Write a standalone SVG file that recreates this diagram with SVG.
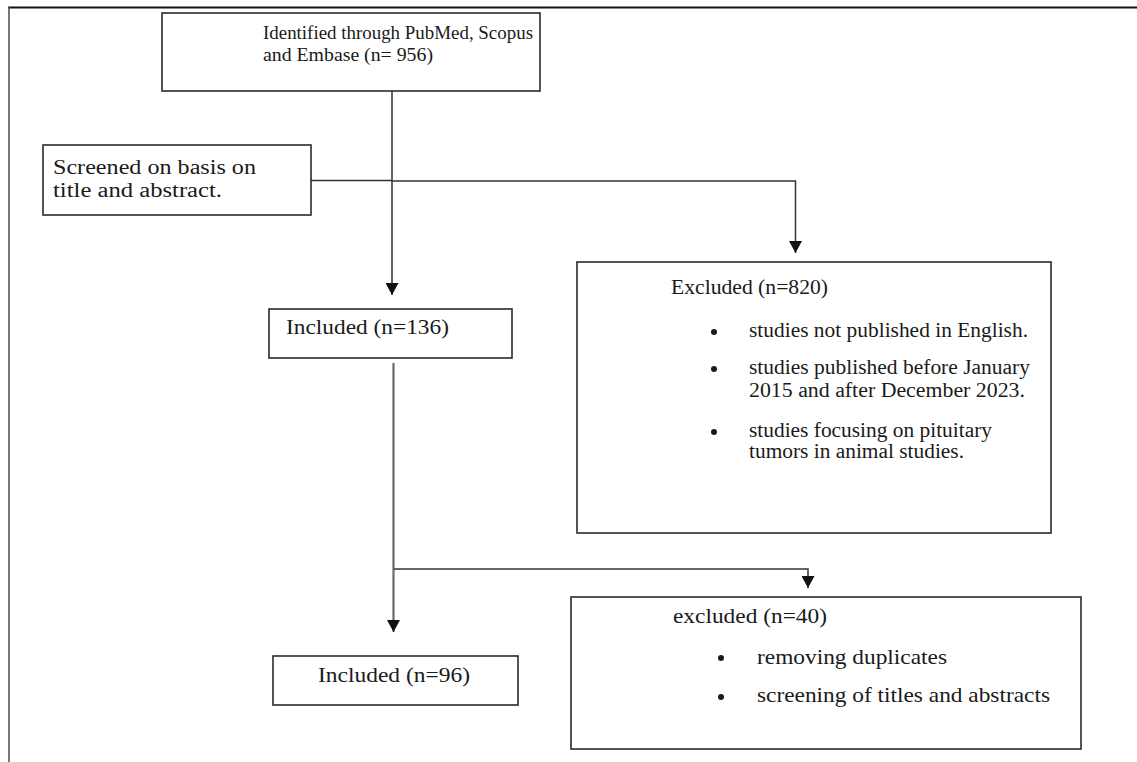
<svg xmlns="http://www.w3.org/2000/svg" width="1137" height="762" viewBox="0 0 1137 762">
  <defs>
    <style>
      .box { fill: #ffffff; stroke: #2a2a2a; stroke-width: 1.6; }
      .conn { fill: none; stroke: #333333; stroke-width: 1.5; stroke-linecap: butt; }
      .conn-gray { fill: none; stroke: #6a6a6a; stroke-width: 2.2; stroke-linecap: butt; }
      .t { font-family: "Liberation Serif", "Times New Roman", serif; fill: #1a1a1a; }
      .bullet { fill: #1a1a1a; }
    </style>
    <marker id="arrow" viewBox="0 0 12 13" markerWidth="12" markerHeight="13" refX="12" refY="6.5" orient="auto" markerUnits="userSpaceOnUse">
      <path d="M0,0 L12,6.5 L0,13 Z" fill="#111111"/>
    </marker>
  </defs>

  <rect width="1137" height="762" fill="#ffffff"/>

  <!-- page frame -->
  <g id="frame">
    <line x1="8" y1="7.5" x2="1137" y2="7.5" stroke="#111111" stroke-width="2"/>
    <line x1="9" y1="7" x2="9" y2="762" stroke="#555555" stroke-width="1.6"/>
  </g>

  <!-- connectors -->
  <g id="connectors">
    <path class="conn" d="M311,180.5 H392"/>
    <path class="conn" d="M392,91 V295" marker-end="url(#arrow)"/>
    <path class="conn" d="M392,181 H795.5 V253" marker-end="url(#arrow)"/>
    <path class="conn-gray" d="M393.5,363 V632" marker-end="url(#arrow)"/>
    <path class="conn" d="M394,569 H808 V588" marker-end="url(#arrow)"/>
  </g>

  <g id="identified">
    <rect class="box" x="162" y="13" width="378" height="78"/>
    <text class="t" x="263" y="39" font-size="19" textLength="270" lengthAdjust="spacingAndGlyphs">Identified through PubMed, Scopus</text>
    <text class="t" x="263" y="61" font-size="19" textLength="170" lengthAdjust="spacingAndGlyphs">and Embase (n= 956)</text>
  </g>

  <g id="screened">
    <rect class="box" x="43" y="145" width="268" height="70"/>
    <text class="t" x="53" y="174" font-size="20" textLength="203" lengthAdjust="spacingAndGlyphs">Screened on basis on</text>
    <text class="t" x="53" y="197" font-size="20" textLength="169" lengthAdjust="spacingAndGlyphs">title and abstract.</text>
  </g>

  <g id="excluded-820">
    <rect class="box" x="577" y="262" width="474" height="271"/>
    <text class="t" x="671" y="294" font-size="20" textLength="157" lengthAdjust="spacingAndGlyphs">Excluded (n=820)</text>
    <circle class="bullet" cx="714" cy="332" r="3"/>
    <text class="t" x="749" y="337" font-size="20" textLength="279" lengthAdjust="spacingAndGlyphs">studies not published in English.</text>
    <circle class="bullet" cx="714" cy="369" r="3"/>
    <text class="t" x="749" y="374" font-size="20" textLength="281" lengthAdjust="spacingAndGlyphs">studies published before January</text>
    <text class="t" x="749" y="397" font-size="20" textLength="276" lengthAdjust="spacingAndGlyphs">2015 and after December 2023.</text>
    <circle class="bullet" cx="714" cy="432" r="3"/>
    <text class="t" x="749" y="437" font-size="20" textLength="243" lengthAdjust="spacingAndGlyphs">studies focusing on pituitary</text>
    <text class="t" x="749" y="458" font-size="20" textLength="215" lengthAdjust="spacingAndGlyphs">tumors in animal studies.</text>
  </g>

  <g id="included-136">
    <rect class="box" x="269" y="309" width="243" height="49"/>
    <text class="t" x="286" y="334" font-size="22" textLength="163" lengthAdjust="spacingAndGlyphs">Included (n=136)</text>
  </g>

  <g id="included-96">
    <rect class="box" x="273" y="656" width="245" height="49"/>
    <text class="t" x="318" y="682" font-size="21" textLength="152" lengthAdjust="spacingAndGlyphs">Included (n=96)</text>
  </g>

  <g id="excluded-40">
    <rect class="box" x="571" y="597" width="510" height="152"/>
    <text class="t" x="673" y="623" font-size="21" textLength="154" lengthAdjust="spacingAndGlyphs">excluded (n=40)</text>
    <circle class="bullet" cx="721" cy="658" r="3"/>
    <text class="t" x="757" y="664" font-size="21" textLength="190" lengthAdjust="spacingAndGlyphs">removing duplicates</text>
    <circle class="bullet" cx="721" cy="697" r="3"/>
    <text class="t" x="757" y="702" font-size="21" textLength="293" lengthAdjust="spacingAndGlyphs">screening of titles and abstracts</text>
  </g>
</svg>
